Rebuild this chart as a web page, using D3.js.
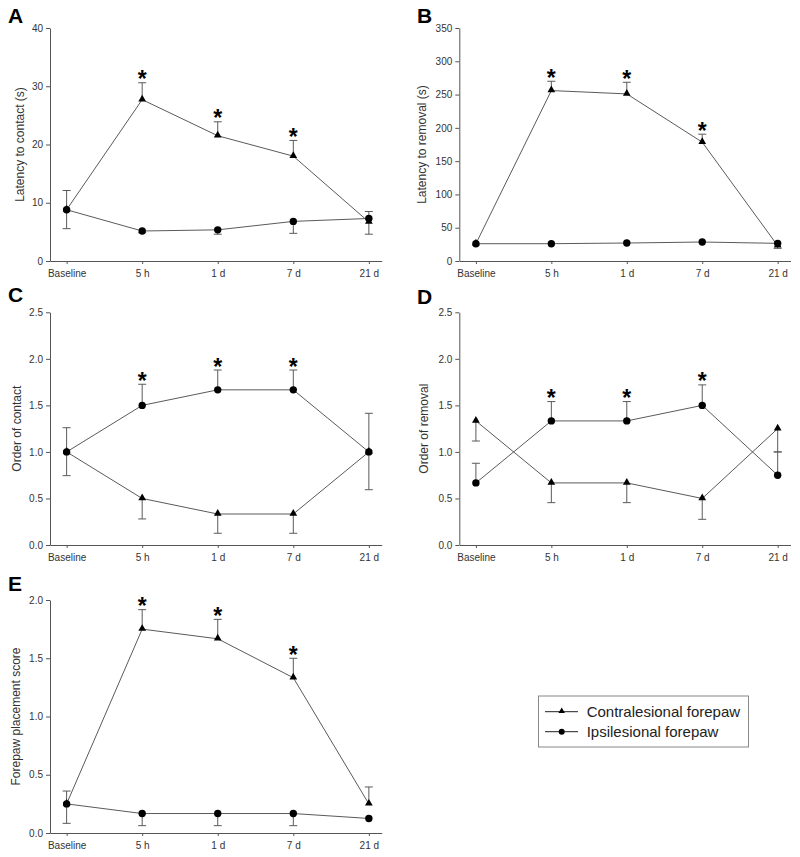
<!DOCTYPE html>
<html>
<head>
<meta charset="utf-8">
<script src="https://cdn.jsdelivr.net/npm/d3@7"></script>
<style>
  html, body { margin: 0; padding: 0; background: #fff; }
  svg { display: block; font-family: "Liberation Sans", Arial, sans-serif; }
</style>
</head>
<body>
<svg id="chart" width="800" height="857"></svg>
<script>
// ---------------- DATA ----------------
const timepoints = ["Baseline", "5 h", "1 d", "7 d", "21 d"];
const seriesNames = ["Contralesional forepaw", "Ipsilesional forepaw"];

// Error values: positive = bar drawn upward, negative = downward
const contraA = [8.8, 27.7, 21.5, 18.0, 6.7];
const contraErrA = [3.3, 2.9, 2.4, 2.7, -2.1];
const ipsiA = [8.8, 5.15, 5.35, 6.8, 7.3];
const ipsiErrA = [-3.25, -0.3, -0.75, -2.05, 1.2];
const ticksA = [0, 10, 20, 30, 40];
const starsA = [false, true, true, true, false];

const contraB = [26, 256, 251, 178.5, 23];
const contraErrB = [0, 14, 17.5, 12, -4];
const ipsiB = [26, 26, 27, 28.5, 26.5];
const ipsiErrB = [0, 0, 0, 0, 0];
const ticksB = [0, 50, 100, 150, 200, 250, 300, 350];
const starsB = [false, true, true, true, false];

const contraC = [1.0, 0.5, 0.333, 0.333, 1.0];
const contraErrC = [-0.255, -0.22, -0.207, -0.207, -0.406];
const ipsiC = [1.0, 1.5, 1.667, 1.667, 1.0];
const ipsiErrC = [0.26, 0.227, 0.213, 0.213, 0.415];
const ticksC = [0, 0.5, 1.0, 1.5, 2.0, 2.5];
const starsC = [false, true, true, true, false];

const contraD = [1.333, 0.667, 0.667, 0.5, 1.25];
const contraErrD = [-0.216, -0.212, -0.212, -0.224, -0.25];
const ipsiD = [0.667, 1.333, 1.333, 1.5, 0.75];
const ipsiErrD = [0.211, 0.208, 0.208, 0.22, 0.25];
const ticksD = [0, 0.5, 1.0, 1.5, 2.0, 2.5];
const starsD = [false, true, true, true, false];

const contraE = [0.25, 1.75, 1.667, 1.333, 0.25];
const contraErrE = [0.11, 0.167, 0.167, 0.167, 0.145];
const ipsiE = [0.25, 0.167, 0.167, 0.167, 0.125];
const ipsiErrE = [-0.167, -0.104, -0.104, -0.104, 0];
const ticksE = [0, 0.5, 1.0, 1.5, 2.0];
const starsE = [false, true, true, true, false];

// ---------------- LAYOUT ----------------
const panels = [
  { letter: "A", lx: 8, ly: 23, x0: 50, x1: 381.7, yTop: 28, yBot: 261, ticks: ticksA, fmt: d3.format("d"),
    ylabel: "Latency to contact (s)", ylx: 24,
    contra: contraA, contraErr: contraErrA, ipsi: ipsiA, ipsiErr: ipsiErrA, stars: starsA, starOn: "contra" },
  { letter: "B", lx: 417, ly: 23, x0: 459.3, x1: 790.5, yTop: 28, yBot: 261, ticks: ticksB, fmt: d3.format("d"),
    ylabel: "Latency to removal (s)", ylx: 426,
    contra: contraB, contraErr: contraErrB, ipsi: ipsiB, ipsiErr: ipsiErrB, stars: starsB, starOn: "contra" },
  { letter: "C", lx: 8, ly: 302, x0: 50, x1: 381.7, yTop: 312.3, yBot: 545, ticks: ticksC, fmt: d3.format(".1f"),
    ylabel: "Order of contact", ylx: 21,
    contra: contraC, contraErr: contraErrC, ipsi: ipsiC, ipsiErr: ipsiErrC, stars: starsC, starOn: "ipsi" },
  { letter: "D", lx: 417, ly: 304, x0: 459.3, x1: 790.5, yTop: 312.3, yBot: 545, ticks: ticksD, fmt: d3.format(".1f"),
    ylabel: "Order of removal", ylx: 428,
    contra: contraD, contraErr: contraErrD, ipsi: ipsiD, ipsiErr: ipsiErrD, stars: starsD, starOn: "ipsi" },
  { letter: "E", lx: 8, ly: 591, x0: 50, x1: 381.7, yTop: 600, yBot: 833, ticks: ticksE, fmt: d3.format(".1f"),
    ylabel: "Forepaw placement score", ylx: 20,
    contra: contraE, contraErr: contraErrE, ipsi: ipsiE, ipsiErr: ipsiErrE, stars: starsE, starOn: "contra" }
];

const svg = d3.select("#chart");
const axisColor = "#555";
const lineColor = "#5a5a5a";
const textColor = "#333";

const triangle = d3.symbol().type(d3.symbolTriangle).size(26);

panels.forEach(p => {
  const g = svg.append("g");
  const x = d3.scaleLinear().domain([-0.22, 4.17]).range([p.x0, p.x1]);
  const yMax = p.ticks[p.ticks.length - 1];
  const y = d3.scaleLinear().domain([0, yMax]).range([p.yBot, p.yTop]);

  // Panel letter
  g.append("text").attr("x", p.lx).attr("y", p.ly)
    .attr("font-size", 21).attr("font-weight", "bold").attr("fill", "#000")
    .text(p.letter);

  // Y axis
  const yAxis = g.append("g").attr("transform", `translate(${p.x0},0)`)
    .call(d3.axisLeft(y).tickValues(p.ticks).tickFormat(p.fmt).tickSize(4).tickSizeOuter(0).tickPadding(3));
  // X axis
  const xAxis = g.append("g").attr("transform", `translate(0,${p.yBot})`)
    .call(d3.axisBottom(x).tickValues(d3.range(timepoints.length)).tickFormat(i => timepoints[i])
      .tickSize(3).tickSizeOuter(0).tickPadding(6));
  [yAxis, xAxis].forEach(a => {
    a.select(".domain").attr("stroke", axisColor).attr("stroke-width", 1);
    a.selectAll(".tick line").attr("stroke", axisColor);
    a.selectAll(".tick text").attr("fill", textColor).attr("font-size", 10)
      .attr("font-family", "'Liberation Sans', Arial, sans-serif");
  });

  // Y label
  const yc = (p.yTop + p.yBot) / 2;
  g.append("text")
    .attr("transform", `translate(${p.ylx},${yc}) rotate(-90)`)
    .attr("text-anchor", "middle").attr("font-size", 12).attr("fill", textColor)
    .text(p.ylabel);

  const series = [
    { vals: p.contra, errs: p.contraErr, kind: "contra" },
    { vals: p.ipsi, errs: p.ipsiErr, kind: "ipsi" }
  ];

  const line = d3.line().x((d, i) => x(i)).y(d => y(d));

  // Error bars
  series.forEach(s => {
    s.vals.forEach((v, i) => {
      const e = s.errs[i];
      if (!e) return;
      const yv = y(v), ye = y(v + e);
      g.append("line").attr("x1", x(i)).attr("x2", x(i)).attr("y1", yv).attr("y2", ye)
        .attr("stroke", lineColor).attr("stroke-width", 1);
      g.append("line").attr("x1", x(i) - 4).attr("x2", x(i) + 4).attr("y1", ye).attr("y2", ye)
        .attr("stroke", lineColor).attr("stroke-width", 1);
    });
  });

  // Lines
  series.forEach(s => {
    g.append("path").datum(s.vals).attr("d", line)
      .attr("fill", "none").attr("stroke", lineColor).attr("stroke-width", 1);
  });

  // Markers
  series.forEach(s => {
    s.vals.forEach((v, i) => {
      if (s.kind === "contra") {
        g.append("path").attr("d", triangle)
          .attr("transform", `translate(${x(i)},${y(v) - 0.5})`).attr("fill", "#000");
      } else {
        g.append("circle").attr("cx", x(i)).attr("cy", y(v)).attr("r", 3.7).attr("fill", "#000");
      }
    });
  });

  // Significance stars
  const sv = p.starOn === "contra" ? series[0] : series[1];
  p.stars.forEach((st, i) => {
    if (!st) return;
    const top = sv.vals[i] + Math.max(sv.errs[i], 0);
    g.append("text").attr("x", x(i)).attr("y", y(top) + 4.5)
      .attr("text-anchor", "middle").attr("font-size", 23).attr("font-weight", "bold")
      .attr("fill", "#000").text("*");
  });
});

// ---------------- LEGEND ----------------
const lg = svg.append("g");
lg.append("rect").attr("x", 538.5).attr("y", 696).attr("width", 210).attr("height", 51)
  .attr("fill", "#fff").attr("stroke", "#888").attr("stroke-width", 1);
seriesNames.forEach((name, k) => {
  const yy = 711.7 + k * 20;
  lg.append("line").attr("x1", 545).attr("x2", 578).attr("y1", yy).attr("y2", yy)
    .attr("stroke", "#222").attr("stroke-width", 1);
  if (k === 0) {
    lg.append("path").attr("d", d3.symbol().type(d3.symbolTriangle).size(18))
      .attr("transform", `translate(561.7,${yy - 0.5})`).attr("fill", "#000");
  } else {
    lg.append("circle").attr("cx", 561.7).attr("cy", yy).attr("r", 3).attr("fill", "#000");
  }
  lg.append("text").attr("x", 586.7).attr("y", yy + 5.3)
    .attr("font-size", 15).attr("fill", "#222").text(name);
});
</script>
</body>
</html>
